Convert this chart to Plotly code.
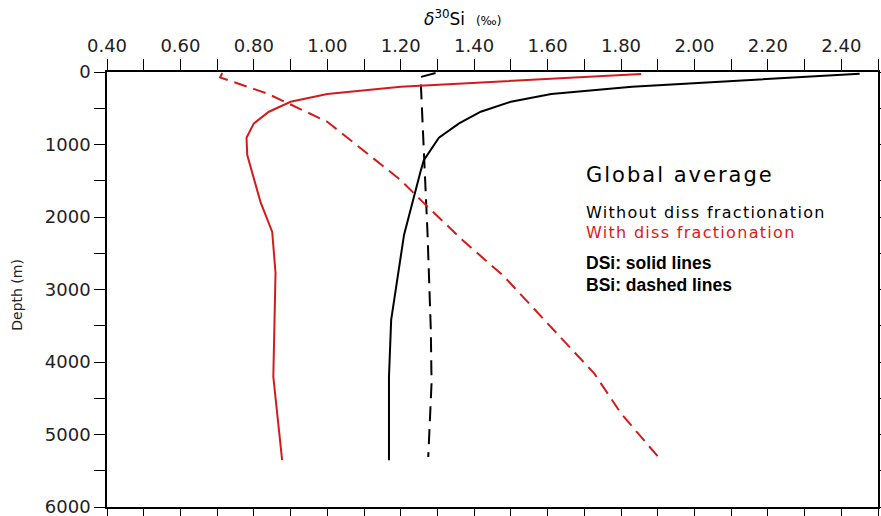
import plotly.graph_objects as go

# --- data ---
depth_black_solid = [25, 203, 304, 410, 548, 709, 907, 1215, 1372, 2247, 3420, 4204, 5354]
si_black_solid = [2.45, 1.83, 1.61, 1.50, 1.418, 1.359, 1.304, 1.263, 1.254, 1.209, 1.174, 1.168, 1.168]

depth_red_solid = [28, 203, 304, 410, 548, 709, 907, 1146, 1791, 2205, 2772, 4204, 5354]
si_red_solid = [1.855, 1.20, 1.00, 0.90, 0.841, 0.80, 0.78, 0.782, 0.818, 0.85, 0.859, 0.853, 0.877]

depth_black_dash = [14, 69, 2224, 3557, 4290, 5310]
si_black_dash = [1.295, 1.254, 1.273, 1.282, 1.284, 1.275]

depth_red_dash = [14, 75, 296, 686, 1491, 1764, 2316, 2823, 3467, 4157, 4709, 5354]
si_red_dash = [0.714, 0.708, 0.836, 1.00, 1.20, 1.254, 1.368, 1.482, 1.60, 1.727, 1.80, 1.909]

x_ticks = [0.4, 0.6, 0.8, 1.0, 1.2, 1.4, 1.6, 1.8, 2.0, 2.2, 2.4]
x_tick_labels = ["0.40", "0.60", "0.80", "1.00", "1.20", "1.40", "1.60", "1.80", "2.00", "2.20", "2.40"]
y_ticks = [0, 1000, 2000, 3000, 4000, 5000, 6000]
y_tick_labels = ["0", "1000", "2000", "3000", "4000", "5000", "6000"]

RED = "#d21c1c"
BLACK = "#000000"
FONT = "DejaVu Sans"

fig = go.Figure()
fig.add_trace(go.Scatter(x=si_black_solid, y=depth_black_solid, mode="lines",
                         line=dict(color=BLACK, width=2), showlegend=False))
fig.add_trace(go.Scatter(x=si_black_dash, y=depth_black_dash, mode="lines",
                         line=dict(color=BLACK, width=2, dash="15px,8px"), showlegend=False))
fig.add_trace(go.Scatter(x=si_red_solid, y=depth_red_solid, mode="lines",
                         line=dict(color=RED, width=2), showlegend=False))
fig.add_trace(go.Scatter(x=si_red_dash, y=depth_red_dash, mode="lines",
                         line=dict(color=RED, width=2, dash="13px,7px"), showlegend=False))
# invisible trace to activate the mirrored axes
fig.add_trace(go.Scatter(x=[1.0], y=[3000], xaxis="x2", yaxis="y2", mode="markers",
                         marker=dict(opacity=0), showlegend=False, hoverinfo="skip"))

tickfont = dict(family=FONT, size=18, color="#222222")
fig.update_layout(
    width=881, height=516,
    margin=dict(l=107, r=3, t=72, b=9),
    paper_bgcolor="white", plot_bgcolor="white",
    xaxis=dict(side="top", range=[0.4, 2.5], tickvals=x_ticks, ticktext=x_tick_labels,
               ticks="outside", ticklen=11, tickwidth=1.3, tickcolor="black",
               minor=dict(dtick=0.1, tick0=0.4, ticks="outside", ticklen=11, tickwidth=1.3, tickcolor="black"),
               showline=True, linecolor="black", linewidth=1.5, showgrid=False, zeroline=False,
               tickfont=tickfont, fixedrange=True, automargin=False, ticklabeloverflow="allow"),
    yaxis=dict(range=[6000, 0], tickvals=y_ticks, ticktext=y_tick_labels,
               ticks="outside", ticklen=11, tickwidth=1.3, tickcolor="black",
               minor=dict(dtick=500, tick0=0, ticks="outside", ticklen=11, tickwidth=1.3, tickcolor="black"),
               showline=True, linecolor="black", linewidth=1.5, showgrid=False, zeroline=False,
               tickfont=tickfont, fixedrange=True, automargin=False, ticklabeloverflow="allow"),
    xaxis2=dict(overlaying="x", side="bottom", anchor="y", range=[0.4, 2.5], dtick=0.1, tick0=0.4,
                ticks="outside", ticklen=11, tickwidth=1.3, tickcolor="black", showticklabels=False,
                showline=True, linecolor="black", linewidth=1.5, showgrid=False, zeroline=False,
                automargin=False),
    yaxis2=dict(overlaying="y", side="right", anchor="x", range=[6000, 0], dtick=500, tick0=0,
                ticks="outside", ticklen=11, tickwidth=1.3, tickcolor="black", showticklabels=False,
                showline=True, linecolor="black", linewidth=1.5, showgrid=False, zeroline=False,
                automargin=False),
)

anns = [
    dict(text="<i>δ</i><sup>30</sup>Si  <span style='font-size:12px'>(‰)</span>",
         x=0.4086, y=1.125, xanchor="left", yanchor="middle",
         font=dict(family=FONT, size=17, color="black")),
    dict(text="Depth (m)", x=-0.116, y=0.487, textangle=-90, xanchor="center", yanchor="middle",
         font=dict(family=FONT, size=14, color="#222222")),
    dict(text="<span style='letter-spacing:2px'>Global average</span>", x=0.619, y=0.764,
         xanchor="left", yanchor="middle", font=dict(family=FONT, size=21, color="black")),
    dict(text="<span style='letter-spacing:1.3px'>Without diss fractionation</span>", x=0.619, y=0.678,
         xanchor="left", yanchor="middle", font=dict(family=FONT, size=16, color="black")),
    dict(text="<span style='letter-spacing:1.3px'>With diss fractionation</span>", x=0.619, y=0.630,
         xanchor="left", yanchor="middle", font=dict(family=FONT, size=16, color="#e01818")),
    dict(text="<b>DSi: solid lines</b>", x=0.619, y=0.561,
         xanchor="left", yanchor="middle", font=dict(family="Liberation Sans", size=17.5, color="black")),
    dict(text="<b>BSi: dashed lines</b>", x=0.619, y=0.510,
         xanchor="left", yanchor="middle", font=dict(family="Liberation Sans", size=17.5, color="black")),
]
for a in anns:
    a.update(xref="paper", yref="paper", showarrow=False)
fig.update_layout(annotations=anns)

fig.write_html("out.html")
